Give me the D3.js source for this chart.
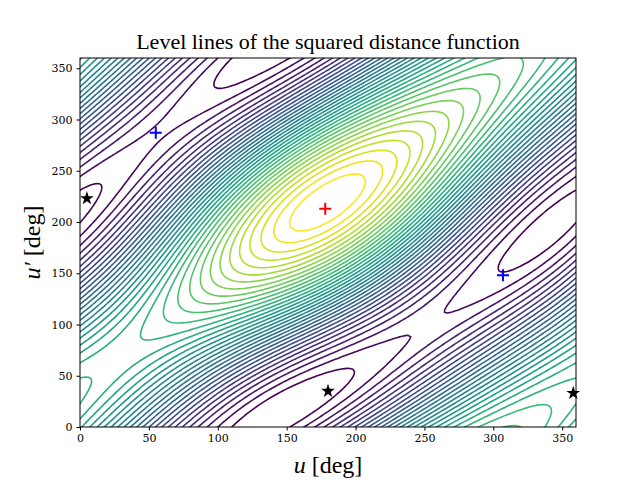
<!DOCTYPE html>
<html><head><meta charset="utf-8">
<script src="https://cdn.jsdelivr.net/npm/d3@7"></script>
<style>body{margin:0;background:#fff}svg{font-family:"DejaVu Serif","Liberation Serif",serif}</style>
</head><body><div id="chart"></div>
<script>
// orbit elements [a, e] and orientation of orbit 2 [incl, omega] (deg)
const orbit1 = [1.0, 0.2];
const orbit2 = [1.05, 0.03];
const orient2 = [30, 145];
// origin shift of the anomalies [du, du'] (deg)
const anomalyShift = [14, 19];
const nLevels = 36;
const xTicks = [0, 50, 100, 150, 200, 250, 300, 350];
const yTicks = [0, 50, 100, 150, 200, 250, 300, 350];
// critical points [u, u']
const maxPts = [[178, 213]];
const saddlePts = [[55, 287], [307, 148]];
const minPts = [[5, 223], [180, 35], [358, 33]];

const W = 640, H = 480;
const margin = {top: 58, right: 64, bottom: 53, left: 80};
const w = W - margin.left - margin.right, h = H - margin.top - margin.bottom;
const rad = Math.PI / 180;

function pos1(u) {
    const [a, e] = orbit1, b = a * Math.sqrt(1 - e * e);
    return [a * (Math.cos(u) - e), b * Math.sin(u), 0];
}
function pos2(u) {
    const [a, e] = orbit2, b = a * Math.sqrt(1 - e * e);
    let x = a * (Math.cos(u) - e), y = b * Math.sin(u);
    const i = orient2[0] * rad, om = orient2[1] * rad;
    let y1 = y * Math.cos(i), z1 = y * Math.sin(i);
    return [x * Math.cos(om) - y1 * Math.sin(om), x * Math.sin(om) + y1 * Math.cos(om), z1];
}

const step = 2, n = 360 / step + 1;
const values = new Array(n * n);
for (let j = 0; j < n; j++) {
    const p2 = pos2((j * step - anomalyShift[1]) * rad);
    for (let i = 0; i < n; i++) {
        const p1 = pos1((i * step - anomalyShift[0]) * rad);
        values[j * n + i] = (p1[0]-p2[0])**2 + (p1[1]-p2[1])**2 + (p1[2]-p2[2])**2;
    }
}
const [vmin, vmax] = d3.extent(values);
const thresholds = d3.range(1, nLevels).map(k => vmin + (vmax - vmin) * k / nLevels);
const color = d3.scaleSequential(d3.interpolateViridis).domain([thresholds[0], thresholds[thresholds.length-1]]);

const x = d3.scaleLinear().domain([0, 360]).range([0, w]);
const y = d3.scaleLinear().domain([0, 360]).range([h, 0]);

const svg = d3.select("#chart").append("svg").attr("width", W).attr("height", H);
const g = svg.append("g").attr("transform", `translate(${margin.left},${margin.top})`);
g.append("clipPath").attr("id", "clip").append("rect").attr("width", w).attr("height", h);

const proj = d3.geoTransform({point: function(px, py) {
    this.stream.point(x((px - 0.5) * step), y((py - 0.5) * step));
}});
const path = d3.geoPath(proj);
const contours = d3.contours().size([n, n]).thresholds(thresholds).smooth(true)(values);

g.append("g").attr("clip-path", "url(#clip)")
    .selectAll("path").data(contours).enter().append("path")
    .attr("d", path).attr("fill", "none")
    .attr("stroke", d => color(d.value)).attr("stroke-width", 1.6);

g.append("rect").attr("width", w).attr("height", h).attr("fill", "none").attr("stroke", "#000").attr("stroke-width", 1);

// markers
const plus = (pts, c) => g.selectAll(null).data(pts).enter().append("path")
    .attr("d", d => `M${x(d[0])-6},${y(d[1])}h12M${x(d[0])},${y(d[1])-6}v12`)
    .attr("stroke", c).attr("stroke-width", 2);
plus(maxPts, "red");
plus(saddlePts, "blue");
g.selectAll(null).data(minPts).enter().append("path")
    .attr("transform", d => `translate(${x(d[0])},${y(d[1])})`)
    .attr("d", d3.symbol(d3.symbolStar, 60)).attr("fill", "#000");

const xa = g.append("g").attr("transform", `translate(0,${h})`)
    .call(d3.axisBottom(x).tickValues(xTicks).tickSize(3.5).tickPadding(4));
const ya = g.append("g").call(d3.axisLeft(y).tickValues(yTicks).tickSize(3.5).tickPadding(4));
[xa, ya].forEach(a => { a.select(".domain").remove(); a.selectAll("text").attr("font-size", 11).attr("font-family", "DejaVu Serif"); });

svg.append("text").attr("x", margin.left + w/2).attr("y", 49).attr("text-anchor", "middle")
    .attr("font-size", 22).attr("font-family", "Liberation Serif").text("Level lines of the squared distance function");
const xl = svg.append("text").attr("x", margin.left + w/2).attr("y", 473).attr("text-anchor", "middle")
    .attr("font-size", 24).attr("font-family", "Liberation Serif");
xl.append("tspan").attr("font-style", "italic").text("u");
xl.append("tspan").text(" [deg]");
const yl = svg.append("text").attr("transform", `translate(40,${margin.top + h/2}) rotate(-90)`).attr("text-anchor", "middle")
    .attr("font-size", 24).attr("font-family", "Liberation Serif");
yl.append("tspan").attr("font-style", "italic").text("u′");
yl.append("tspan").text(" [deg]");
</script></body></html>
